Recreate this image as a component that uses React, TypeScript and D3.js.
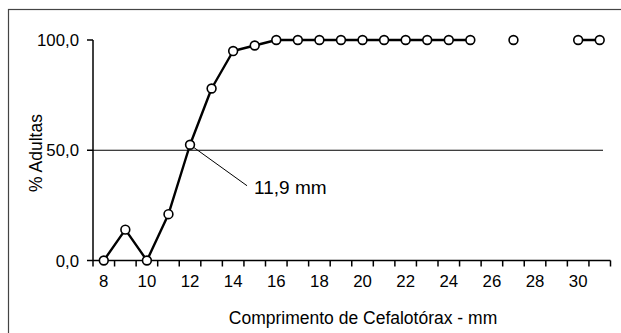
import React, { useEffect, useRef } from 'react';
import * as d3 from 'd3';

// comprimento do cefalotórax (mm) e % de fêmeas adultas
const lengths = [8, 9, 10, 11, 12, 13, 14, 15, 16, 17, 18, 19, 20, 21, 22, 23, 24, 25, 26, 27, 28, 29, 30, 31];
const pctAdults: (number | null)[] = [
  0, 14, 0, 21, 52.5, 78, 95, 97.5, 100, 100, 100, 100, 100, 100, 100, 100, 100, 100, null, 100, null, null, 100, 100,
];
const yTicks = [0, 50, 100];
const xLabels = [8, 10, 12, 14, 16, 18, 20, 22, 24, 26, 28, 30];
const annotation = { x: 12, y: 52.5, text: '11,9 mm' };

const FONT = '"Liberation Sans", Arial, sans-serif';

const App = () => {
  const chartRef = useRef<SVGSVGElement>(null);

  useEffect(() => {
    const svg = d3.select(chartRef.current);
    svg.selectAll('*').remove();

    const x = d3.scaleLinear().domain([7.5, 31.5]).range([93, 610.5]);
    const y = d3.scaleLinear().domain([0, 100]).range([260.5, 40]);

    // moldura (cortada à direita e embaixo)
    svg
      .append('rect')
      .attr('x', 8.5)
      .attr('y', 9.5)
      .attr('width', 640)
      .attr('height', 360)
      .attr('fill', 'none')
      .attr('stroke', '#444')
      .attr('stroke-width', 1.2);

    // linha de 50%
    svg
      .append('line')
      .attr('x1', x(7.5))
      .attr('x2', x(31.5) - 7.5)
      .attr('y1', y(50))
      .attr('y2', y(50))
      .attr('stroke', '#000')
      .attr('stroke-width', 1);

    // eixo y
    const yAxis = svg.append('g').attr('transform', `translate(${x(7.5)},0)`);
    yAxis.append('line').attr('y1', y(0)).attr('y2', y(100)).attr('stroke', '#000').attr('stroke-width', 1.5);
    yTicks.forEach((t) => {
      yAxis.append('line').attr('x1', -6).attr('x2', 0).attr('y1', y(t)).attr('y2', y(t)).attr('stroke', '#000').attr('stroke-width', 1.5);
      yAxis
        .append('text')
        .attr('x', -14)
        .attr('y', y(t))
        .attr('dy', '0.36em')
        .attr('text-anchor', 'end')
        .attr('font-family', FONT)
        .attr('font-size', 16.8)
        .text(t.toFixed(1).replace('.', ','));
    });

    // eixo x
    const xAxis = svg.append('g').attr('transform', `translate(0,${y(0)})`);
    xAxis.append('line').attr('x1', x(7.5)).attr('x2', x(31.5)).attr('stroke', '#000').attr('stroke-width', 1.5);
    d3.range(7.5, 31.6, 1).forEach((t) => {
      xAxis.append('line').attr('x1', x(t)).attr('x2', x(t)).attr('y1', 0).attr('y2', 6).attr('stroke', '#000').attr('stroke-width', 1.5);
    });
    xLabels.forEach((t) => {
      xAxis
        .append('text')
        .attr('x', x(t))
        .attr('y', 26.5)
        .attr('text-anchor', 'middle')
        .attr('font-family', FONT)
        .attr('font-size', 16.8)
        .text(t);
    });

    // títulos
    svg
      .append('text')
      .attr('x', 363)
      .attr('y', 324)
      .attr('text-anchor', 'middle')
      .attr('font-family', FONT)
      .attr('font-size', 17.5)
      .text('Comprimento de Cefalotórax - mm');
    svg
      .append('text')
      .attr('transform', 'translate(42,153) rotate(-90)')
      .attr('text-anchor', 'middle')
      .attr('font-family', FONT)
      .attr('font-size', 17.5)
      .text('% Adultas');

    // anotação
    const ax = x(annotation.x);
    const ay = y(annotation.y);
    svg.append('line').attr('x1', ax).attr('y1', ay).attr('x2', ax + 57).attr('y2', ay + 41).attr('stroke', '#000').attr('stroke-width', 1);
    svg
      .append('text')
      .attr('x', ax + 64)
      .attr('y', ay + 49.5)
      .attr('font-family', FONT)
      .attr('font-size', 19)
      .text(annotation.text);

    // série
    const data = lengths.map((l, i) => ({ l, v: pctAdults[i] }));
    const line = d3
      .line<{ l: number; v: number | null }>()
      .defined((d) => d.v != null)
      .x((d) => x(d.l))
      .y((d) => y(d.v as number));

    svg
      .append('path')
      .datum(data)
      .attr('d', line)
      .attr('fill', 'none')
      .attr('stroke', '#000')
      .attr('stroke-width', 2.4)
      .attr('stroke-linejoin', 'round');

    svg
      .selectAll('circle')
      .data(data.filter((d) => d.v != null))
      .enter()
      .append('circle')
      .attr('cx', (d) => x(d.l))
      .attr('cy', (d) => y(d.v as number))
      .attr('r', 4.4)
      .attr('fill', '#fff')
      .attr('stroke', '#000')
      .attr('stroke-width', 1.6);
  }, []);

  return (
    <svg
      ref={chartRef}
      width={621}
      height={333}
      style={{ position: 'absolute', left: 0, top: 0, background: '#fff', display: 'block' }}
    />
  );
};

export default App;
